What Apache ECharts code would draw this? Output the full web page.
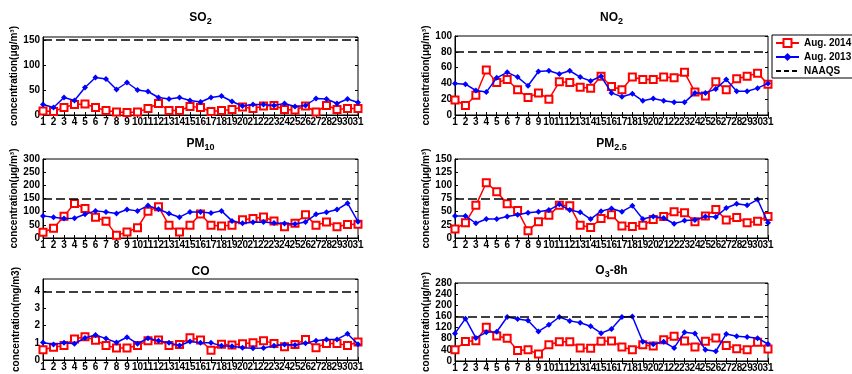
<!DOCTYPE html>
<html>
<head>
<meta charset="utf-8">
<script src="https://cdn.jsdelivr.net/npm/echarts@6/dist/echarts.min.js"></script>
<style>
  html, body { margin: 0; padding: 0; background: #fff; }
  #chart { width: 852px; height: 374px; }
</style>
</head>
<body>
<div id="chart"></div>
<script>
// day of month (August)
const days = ['1', '2', '3', '4', '5', '6', '7', '8', '9', '10', '11', '12', '13', '14', '15', '16',
  '17', '18', '19', '20', '21', '22', '23', '24', '25', '26', '27', '28', '29', '30', '31'];

// SO2 (ug/m3)
const so2_2014 = [8, 7, 15, 21, 22, 15, 9, 6, 5, 6, 13, 23, 9, 9, 17, 15, 7, 9, 11, 16, 13, 18, 19, 11, 10, 18, 6, 19, 11, 13, 13];
const so2_2013 = [21, 15, 35, 29, 55, 75, 72, 51, 65, 50, 47, 35, 32, 35, 29, 26, 35, 38, 27, 18, 21, 21, 19, 23, 17, 19, 33, 32, 23, 32, 25];
const so2_limit = 150;

// NO2 (ug/m3)
const no2_2014 = [19, 12, 25, 57, 41, 45, 32, 22, 28, 20, 42, 41, 35, 34, 49, 36, 32, 48, 45, 45, 48, 47, 54, 29, 24, 42, 32, 46, 49, 53, 39];
const no2_2013 = [40, 39, 31, 29, 47, 54, 48, 37, 55, 56, 52, 56, 48, 43, 49, 28, 23, 27, 18, 21, 18, 16, 16, 28, 28, 33, 45, 30, 30, 34, 40];
const no2_limit = 80;

// PM10 (ug/m3)
const pm10_2014 = [22, 37, 83, 131, 112, 79, 64, 10, 23, 39, 102, 119, 48, 23, 48, 91, 48, 46, 48, 69, 74, 80, 65, 43, 56, 88, 48, 61, 43, 51, 52];
const pm10_2013 = [84, 79, 74, 75, 90, 103, 99, 93, 108, 103, 123, 109, 93, 79, 99, 99, 95, 103, 65, 56, 60, 61, 57, 55, 53, 61, 90, 98, 108, 132, 62];
const pm10_limit = 150;

// PM2.5 (ug/m3)
const pm25_2014 = [17, 29, 62, 105, 88, 65, 52, 14, 31, 43, 62, 61, 24, 20, 37, 44, 23, 22, 24, 35, 41, 50, 48, 31, 42, 54, 34, 39, 29, 32, 41];
const pm25_2013 = [42, 42, 28, 36, 36, 41, 44, 48, 50, 53, 64, 53, 49, 36, 51, 56, 50, 61, 36, 41, 38, 27, 33, 34, 41, 40, 57, 65, 62, 73, 29];
const pm25_limit = 75;

// CO (mg/m3)
const co_2014 = [0.6, 0.74, 0.85, 1.23, 1.36, 1.16, 0.85, 0.7, 0.7, 0.85, 1.13, 1.17, 0.85, 0.9, 1.3, 1.17, 0.57, 0.92, 0.87, 0.95, 1.0, 1.13, 0.97, 0.78, 0.9, 1.2, 0.72, 0.97, 0.97, 0.85, 1.05];
const co_2013 = [1.02, 0.9, 1.0, 0.95, 1.29, 1.46, 1.25, 1.02, 1.33, 0.95, 1.27, 1.12, 1.0, 0.85, 1.08, 1.0, 1.0, 0.83, 0.8, 0.72, 0.68, 0.7, 0.83, 0.9, 0.87, 0.98, 1.13, 1.2, 1.2, 1.53, 0.92];
const co_limit = 4;

// O3 8-hour (ug/m3)
const o3_2014 = [40, 70, 73, 121, 90, 82, 38, 40, 25, 58, 69, 69, 47, 46, 71, 72, 50, 40, 58, 54, 76, 89, 72, 50, 71, 83, 56, 44, 40, 67, 43];
const o3_2013 = [99, 152, 83, 103, 105, 158, 151, 145, 106, 130, 158, 144, 137, 125, 100, 115, 158, 160, 69, 60, 69, 47, 103, 99, 40, 35, 97, 89, 86, 82, 61];
const o3_limit = 160;

const FONT = "'Liberation Sans Narrow', 'Liberation Sans', Arial, sans-serif";
const UG = 'concentration(μg/m³)';

const panels = [
  { name: 'SO', sub: '2', unit: UG, s14: so2_2014, s13: so2_2013, limit: so2_limit,
    max: 156, step: 50, hideMax: true, left: 43, top: 37, width: 315, height: 78, titleY: 18 },
  { name: 'NO', sub: '2', unit: UG, s14: no2_2014, s13: no2_2013, limit: no2_limit,
    max: 100, step: 20, left: 455, top: 36, width: 313, height: 79, titleY: 18 },
  { name: 'PM', sub: '10', unit: UG, s14: pm10_2014, s13: pm10_2013, limit: pm10_limit,
    max: 300, step: 50, left: 43, top: 159, width: 315, height: 79, titleY: 144 },
  { name: 'PM', sub: '2.5', unit: UG, s14: pm25_2014, s13: pm25_2013, limit: pm25_limit,
    max: 150, step: 25, left: 455, top: 159, width: 313, height: 79, titleY: 144 },
  { name: 'CO', sub: '', unit: 'concentration(mg/m3)', s14: co_2014, s13: co_2013, limit: co_limit,
    max: 4.73, step: 1, hideMax: true, left: 43, top: 279, width: 315, height: 84, titleY: 272 },
  { name: 'O', sub: '3', tail: '-8h', unit: UG, s14: o3_2014, s13: o3_2013, limit: o3_limit,
    max: 280, step: 40, left: 455, top: 283, width: 313, height: 80, titleY: 271 }
];

const chart = echarts.init(document.getElementById('chart'), null, { renderer: 'canvas' });

const grid = [], xAxis = [], yAxis = [], series = [], graphic = [];
const labelStyle = { color: '#000', fontFamily: FONT, fontWeight: 'bold', fontSize: 10 };

panels.forEach((p, i) => {
  grid.push({
    left: p.left, top: p.top, width: p.width, height: p.height,
    show: true, borderColor: '#000', borderWidth: 1, containLabel: false
  });

  // bottom axis with labels, top axis only for the mirrored ticks
  xAxis.push({
    gridIndex: i, type: 'category', data: days, boundaryGap: false,
    axisLine: { lineStyle: { color: '#000', width: 1 } },
    axisTick: { inside: true, length: 3, interval: 0, lineStyle: { color: '#000' } },
    axisLabel: Object.assign({ interval: 0, margin: 2 }, labelStyle),
    splitLine: { show: false }
  });
  xAxis.push({
    gridIndex: i, type: 'category', data: days, boundaryGap: false, position: 'top',
    axisLine: { show: false },
    axisTick: { inside: true, length: 3, interval: 0, lineStyle: { color: '#000' } },
    axisLabel: { show: false }, splitLine: { show: false }
  });

  yAxis.push({
    gridIndex: i, type: 'value', min: 0, max: p.max, interval: p.step,
    name: p.unit, nameLocation: 'middle', nameGap: 22,
    nameTextStyle: { color: '#000', fontFamily: FONT, fontWeight: 'bold', fontSize: 10 },
    axisLine: { show: true, lineStyle: { color: '#000', width: 1 } },
    axisTick: { show: true, inside: true, length: 3, lineStyle: { color: '#000' } },
    axisLabel: Object.assign({ margin: 3, showMaxLabel: !p.hideMax }, labelStyle),
    splitLine: { show: false }
  });
  yAxis.push({
    gridIndex: i, type: 'value', min: 0, max: p.max, interval: p.step, position: 'right',
    axisLine: { show: false },
    axisTick: { show: true, inside: true, length: 3, lineStyle: { color: '#000' } },
    axisLabel: { show: false }, splitLine: { show: false }
  });

  const xi = i * 2, yi = i * 2;

  series.push({
    name: 'NAAQS', type: 'line', xAxisIndex: xi, yAxisIndex: yi, data: [],
    symbol: 'none', color: '#000',
    lineStyle: { color: '#000', width: 1.5, type: [5, 3] },
    markLine: {
      silent: true, symbol: ['none', 'none'], label: { show: false }, animation: false,
      lineStyle: { color: '#000', width: 1.5, type: [9, 4] },
      data: [{ yAxis: p.limit }]
    },
    z: 1
  });
  series.push({
    name: 'Aug. 2014', type: 'line', xAxisIndex: xi, yAxisIndex: yi, data: p.s14,
    symbol: 'emptyRect', symbolSize: 7, color: '#ff0000',
    lineStyle: { color: '#ff0000', width: 1.5 },
    itemStyle: { color: '#ff0000', borderWidth: 1 },
    z: 2
  });
  series.push({
    name: 'Aug. 2013', type: 'line', xAxisIndex: xi, yAxisIndex: yi, data: p.s13,
    symbol: 'diamond', symbolSize: 6, color: '#0000ff',
    lineStyle: { color: '#0000ff', width: 1.5 },
    itemStyle: { color: '#0000ff' },
    z: 3
  });

  const rich = {
    m: { fontFamily: FONT, fontWeight: 'bold', fontSize: 12, lineHeight: 16, verticalAlign: 'middle', fill: '#000' },
    s: { fontFamily: FONT, fontWeight: 'bold', fontSize: 9, lineHeight: 4, verticalAlign: 'bottom', fill: '#000' }
  };
  let text = '{m|' + p.name + '}';
  if (p.sub) text += '{s|' + p.sub + '}';
  if (p.tail) text += '{m|' + p.tail + '}';
  graphic.push({
    type: 'text', x: p.left + p.width / 2, y: p.titleY,
    style: { text: text, rich: rich, align: 'center', verticalAlign: 'middle', fill: '#000' }
  });
});

chart.setOption({
  animation: false,
  backgroundColor: '#fff',
  grid, xAxis, yAxis, series, graphic,
  legend: {
    orient: 'vertical', left: 772, top: 35,
    data: ['Aug. 2014', 'Aug. 2013', { name: 'NAAQS', itemStyle: { opacity: 0 } }],
    selectedMode: false,
    backgroundColor: '#fff', borderColor: '#000', borderWidth: 1, borderRadius: 0,
    padding: [3, 6, 2, 3], itemGap: 4, itemWidth: 23, itemHeight: 10,
    textStyle: { color: '#000', fontFamily: FONT, fontWeight: 'bold', fontSize: 10 }
  }
});
</script>
</body>
</html>
